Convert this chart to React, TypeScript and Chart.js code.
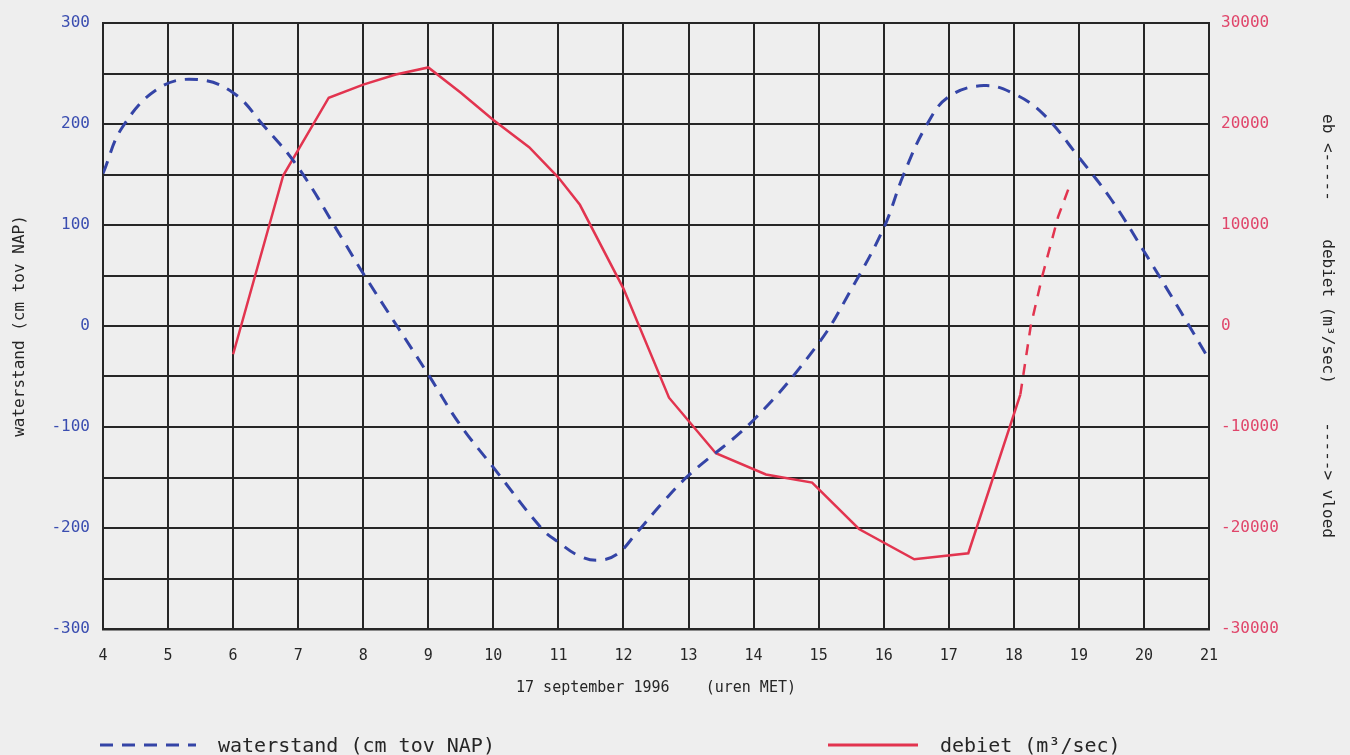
import React, { useEffect, useRef } from "react";
import { Chart, registerables } from "chart.js";

Chart.register(...registerables);

// ---- data ----
const waterHours = [4.0, 4.3, 4.87, 5.45, 6.0, 6.46, 7.0, 7.69, 8.0, 9.0, 9.48, 10.0, 10.75, 11.0, 11.3, 11.6, 11.9, 12.2, 12.6, 13.0, 14.0, 15.0, 15.49, 16.0, 16.3, 16.66, 17.0, 17.54, 18.0, 18.45, 19.0, 19.5, 20.0, 20.52, 21.0];
const waterstand = [151, 197, 236, 244, 231, 199, 157, 85, 52, -48, -97, -140, -201, -214, -227, -232, -226, -205, -175, -148, -93, -17, 35, 97, 149, 199, 227, 238, 230, 210, 167, 125, 74, 19, -33];

const debietHours = [6.0, 6.77, 7.47, 8.0, 8.5, 9.0, 9.5, 10.0, 10.55, 11.0, 11.33, 12.0, 12.7, 13.42, 14.19, 14.9, 15.62, 16.47, 17.3, 18.1, 18.26, 18.44, 18.68, 18.87];
const debiet = [-2800, 14900, 22600, 23900, 24900, 25600, 23100, 20400, 17700, 14700, 12000, 3700, -7100, -12600, -14700, -15500, -20100, -23100, -22500, -6800, 0, 5000, 10800, 14100];
// from this point index on, the debiet line is drawn dashed
const debietDashedFrom = 19;

const xTitle = "17 september 1996    (uren MET)";
const leftTitle = "waterstand (cm tov NAP)";
const rightTitle = "eb <-----\u00A0\u00A0\u00A0\u00A0debiet (m³/sec)\u00A0\u00A0\u00A0\u00A0-----> vloed";
const legendWater = "waterstand (cm tov NAP)";
const legendDebiet = "debiet (m³/sec)";

const BLUE = "#3444a6";
const RED = "#e2344f";
const BLUE_TXT = "#3a4db0";
const RED_TXT = "#e0456a";
const INK = "#262626";
const BG = "#eeeeee";
const FONT = '"DejaVu Sans Mono", "Liberation Mono", monospace';

const W = 1350;
const H = 755;

export default function App() {
  const ref = useRef<HTMLCanvasElement | null>(null);

  useEffect(() => {
    if (!ref.current) return;
    const chart = new Chart(ref.current, {
      type: "line",
      data: {
        datasets: [
          {
            label: "waterstand",
            data: waterHours.map((h, i) => ({ x: h, y: waterstand[i] })),
            borderColor: BLUE,
            borderWidth: 3,
            borderDash: [13, 9],
            pointRadius: 0,
            tension: 0.4,
            yAxisID: "y",
          },
          {
            label: "debiet",
            data: debietHours.map((h, i) => ({ x: h, y: debiet[i] })),
            borderColor: RED,
            borderWidth: 2.5,
            pointRadius: 0,
            tension: 0,
            yAxisID: "y1",
            segment: {
              borderDash: (c: any) => (c.p0DataIndex >= debietDashedFrom ? [11, 9] : undefined),
            },
          },
        ],
      },
      options: {
        responsive: false,
        animation: false,
        layout: { padding: { top: 23, left: 0, right: 0, bottom: 0 } },
        plugins: { legend: { display: false }, tooltip: { enabled: false } },
        scales: {
          x: {
            type: "linear",
            min: 4,
            max: 21,
            afterFit: (s: any) => {
              s.height = 126;
            },
            ticks: { stepSize: 1, color: INK, font: { family: FONT, size: 15 }, padding: 18, maxRotation: 0 },
            grid: { color: INK, lineWidth: 2, drawTicks: false },
            border: { color: INK, width: 2.5 },
            title: { display: true, text: xTitle, color: INK, font: { family: FONT, size: 15 }, padding: { top: 0, bottom: 58 } },
          },
          y: {
            position: "left",
            min: -300,
            max: 300,
            afterFit: (s: any) => {
              s.width = 103;
            },
            ticks: {
              stepSize: 50,
              color: BLUE_TXT,
              font: { family: FONT, size: 16 },
              padding: 13,
              callback: (v: any) => (Number(v) % 100 === 0 ? String(v) : ""),
            },
            grid: { color: INK, lineWidth: 2, drawTicks: false },
            border: { color: INK, width: 2 },
            title: { display: true, text: leftTitle, color: INK, font: { family: FONT, size: 16 }, padding: { top: 10.4, bottom: 0 } },
          },
          y1: {
            position: "right",
            min: -30000,
            max: 30000,
            afterFit: (s: any) => {
              s.width = 141;
            },
            ticks: {
              stepSize: 5000,
              color: RED_TXT,
              font: { family: FONT, size: 16 },
              padding: 12,
              callback: (v: any) => (Number(v) % 10000 === 0 ? String(v) : ""),
            },
            grid: { display: false, drawTicks: false },
            border: { color: INK, width: 2 },
            title: { display: true, text: rightTitle, color: INK, font: { family: FONT, size: 16 }, padding: { top: 13.4, bottom: 0 } },
          },
        },
      },
    } as any);
    return () => chart.destroy();
  }, []);

  const textStyle: React.CSSProperties = {
    position: "absolute",
    top: 735,
    fontFamily: FONT,
    fontSize: 20,
    lineHeight: "20px",
    color: INK,
    whiteSpace: "pre",
  };

  return (
    <div style={{ position: "fixed", left: 0, top: 0, width: W, height: H, background: BG, overflow: "hidden" }}>
      <canvas ref={ref} width={W} height={H} style={{ position: "absolute", left: 0, top: 0, width: W, height: H }} />
      <svg width={100} height={10} style={{ position: "absolute", left: 100, top: 740 }}>
        <line x1={0} y1={5} x2={96} y2={5} stroke={BLUE} strokeWidth={3} strokeDasharray="13 9" />
      </svg>
      <div style={{ ...textStyle, left: 218 }}>{legendWater}</div>
      <svg width={92} height={10} style={{ position: "absolute", left: 828, top: 740 }}>
        <line x1={0} y1={5} x2={90} y2={5} stroke={RED} strokeWidth={3} />
      </svg>
      <div style={{ ...textStyle, left: 940 }}>{legendDebiet}</div>
    </div>
  );
}
